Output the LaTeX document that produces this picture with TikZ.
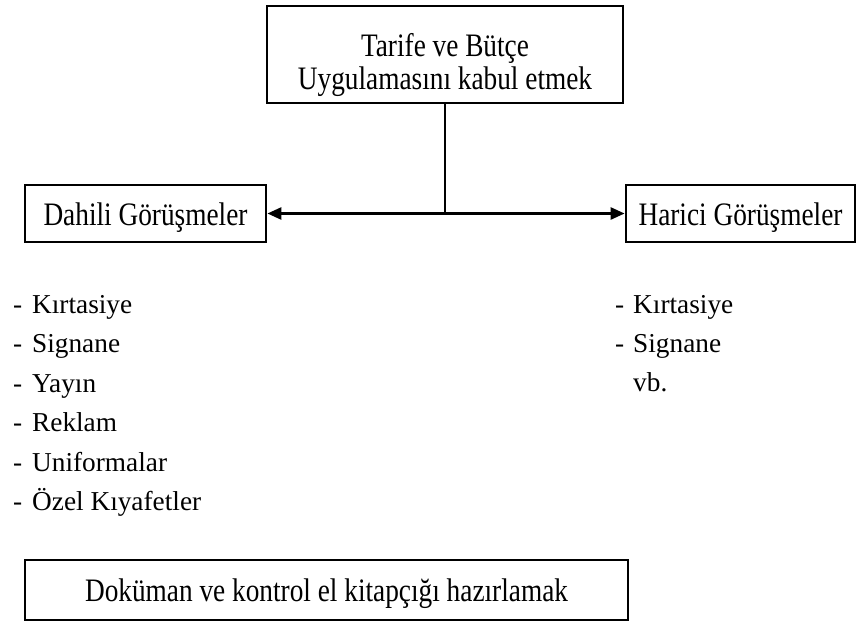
\documentclass[tikz,border=0pt]{standalone}
\usepackage{fontspec}
\setmainfont{Liberation Serif}
\usetikzlibrary{arrows.meta}
% box captions are set slightly taller than the list text
\newcommand\tallcap[1]{\scalebox{1}[1.2]{#1}}
\begin{document}
\begin{tikzpicture}[x=1pt,y=-1pt,
  every node/.style={font=\fontsize{27.3}{33}\selectfont},
  box/.style={draw,line width=2.8pt,inner sep=0pt},
  capbox/.style={box,text height=23pt,text depth=0pt},
  words/.style={inner sep=0pt,anchor=base},
  item/.style={inner sep=0pt,anchor=base west},
  stem/.style={line width=2.6pt},
  link/.style={line width=2.6pt,-{Triangle[length=14pt,width=12pt]}}]
\useasboundingbox (0,0) rectangle (858,624);

% top box with its two lines of text
\node[box,minimum width=356pt,minimum height=97pt] (top) at (445,54.5) {};
\node[words] (topA) at (445,56) {\tallcap{Tarife ve Bütçe}};
\node[words] (topB) at (445,89) {\tallcap{Uygulamasını kabul etmek}};

% the two branches
\node[capbox,minimum width=241pt,minimum height=57pt] (dahili) at (145.5,213.5) {\tallcap{Dahili Görüşmeler}};
\node[capbox,minimum width=229pt,minimum height=57pt] (harici) at (740.5,213.5) {\tallcap{Harici Görüşmeler}};

% connectors
\coordinate (split) at (top.south |- dahili.east);
\draw[stem] (top.south) -- (split);
\draw[link] (split) -- (dahili.east);
\draw[link] (split) -- (harici.west);

% item lists
\foreach \t [count=\i] in {Kırtasiye,Signane,Yayın,Reklam,Uniformalar,Özel Kıyafetler}
  \node[item] (d\i) at (13,{313+39.5*(\i-1)}) {\makebox[19pt][l]{-}\t};
\node[item] (h1) at (615,313) {\makebox[18pt][l]{-}Kırtasiye};
\node[item] (h2) at (615,352) {\makebox[18pt][l]{-}Signane};
\node[item] (h3) at (615,391) {\makebox[18pt][l]{}vb.};

% bottom box
\node[capbox,minimum width=603pt,minimum height=60pt] (doc) at (326.5,590) {\tallcap{Doküman ve kontrol el kitapçığı hazırlamak}};
\end{tikzpicture}
\end{document}
